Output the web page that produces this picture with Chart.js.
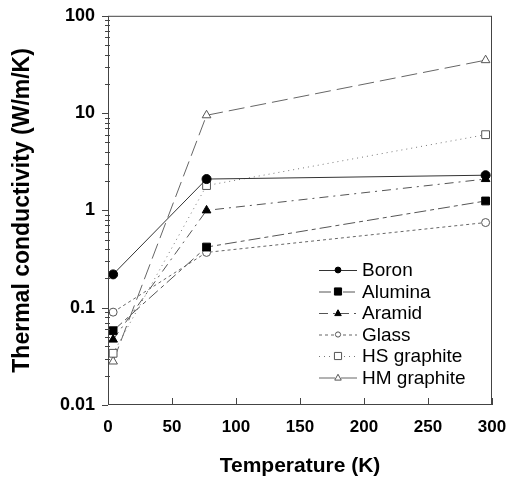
<!DOCTYPE html>
<html><head><meta charset="utf-8">
<script src="https://cdn.jsdelivr.net/npm/chart.js@4.4.0/dist/chart.umd.min.js"></script>
<style>html,body{margin:0;padding:0;background:#fff}canvas{display:block}</style>
</head><body>
<canvas id="c" width="516" height="480"></canvas>
<script>
const temperatures = [4, 77, 295];
const seriesNames = ["Boron", "Alumina", "Aramid", "Glass", "HS graphite", "HM graphite"];
const boron = [0.22, 2.1, 2.3];
const alumina = [0.058, 0.42, 1.25];
const aramid = [0.047, 1.0, 2.1];
const glass = [0.09, 0.37, 0.75];
const hsGraphite = [0.034, 1.8, 6.0];
const hmGraphite = [0.028, 9.5, 35];
const xTicks = [0, 50, 100, 150, 200, 250, 300];
const yTicks = [0.01, 0.1, 1, 10, 100];

const styles = [
  {dash: [], style: 'circle', fill: '#000', stroke: '#000', r: 4.5, line: '#333'},
  {dash: [12, 4, 4, 4], style: 'rect', fill: '#000', stroke: '#000', r: 5.5, line: '#555'},
  {dash: [9, 5, 2, 5], style: 'triangle', fill: '#000', stroke: '#000', r: 5, line: '#555'},
  {dash: [3, 3], style: 'circle', fill: '#fff', stroke: '#555', r: 4, line: '#666'},
  {dash: [1, 4], style: 'rect', fill: '#fff', stroke: '#555', r: 5.5, line: '#777'},
  {dash: [16, 6], style: 'triangle', fill: '#fff', stroke: '#555', r: 5, line: '#666'}
];
const values = [boron, alumina, aramid, glass, hsGraphite, hmGraphite];

const datasets = values.map((v, i) => ({
  label: seriesNames[i],
  data: temperatures.map((t, j) => ({x: t, y: v[j]})),
  borderColor: styles[i].line,
  borderWidth: 1,
  borderDash: styles[i].dash,
  pointStyle: styles[i].style,
  pointRadius: styles[i].r,
  pointBackgroundColor: styles[i].fill,
  pointBorderColor: styles[i].stroke,
  pointBorderWidth: 1,
  tension: 0,
  fill: false
}));

function drawMarker(ctx, style, x, y, r, fill, stroke) {
  ctx.save();
  ctx.setLineDash([]);
  ctx.fillStyle = fill; ctx.strokeStyle = stroke; ctx.lineWidth = 1;
  ctx.beginPath();
  if (style === 'circle') ctx.arc(x, y, r, 0, Math.PI * 2);
  else if (style === 'rect') ctx.rect(x - r, y - r, 2 * r, 2 * r);
  else { ctx.moveTo(x, y - r); ctx.lineTo(x + r, y + r * 0.8); ctx.lineTo(x - r, y + r * 0.8); ctx.closePath(); }
  ctx.fill(); ctx.stroke();
  ctx.restore();
}

const decor = {
  id: 'decor',
  afterDraw(chart) {
    const ctx = chart.ctx, a = chart.chartArea;
    const xs = chart.scales.x, ys = chart.scales.y;
    ctx.save();
    ctx.strokeStyle = '#444'; ctx.lineWidth = 1;
    ctx.strokeRect(a.left + 0.5, a.top + 0.5, a.right - a.left - 1, a.bottom - a.top - 1);
    for (let e = -2; e <= 2; e++) {
      const base = Math.pow(10, e);
      const py = Math.round(ys.getPixelForValue(base)) + 0.5;
      ctx.beginPath(); ctx.moveTo(a.left - 6, py); ctx.lineTo(a.left, py); ctx.stroke();
      if (e < 2) for (let m = 2; m <= 9; m++) {
        const my = Math.round(ys.getPixelForValue(base * m)) + 0.5;
        ctx.beginPath(); ctx.moveTo(a.left - 3, my); ctx.lineTo(a.left + 2, my); ctx.stroke();
      }
    }
    xTicks.forEach(t => {
      const px = Math.round(xs.getPixelForValue(t)) + 0.5;
      ctx.beginPath(); ctx.moveTo(px, a.bottom); ctx.lineTo(px, a.bottom - 7); ctx.stroke();
    });
    const lx0 = 319, lx1 = 357, tx = 362;
    let ly = 270;
    ctx.font = '19px "Liberation Sans", Arial, sans-serif';
    ctx.textBaseline = 'middle'; ctx.textAlign = 'left';
    chart.data.datasets.forEach((d, i) => {
      const s = styles[i];
      ctx.save();
      ctx.strokeStyle = s.line; ctx.setLineDash(s.dash); ctx.lineWidth = 1;
      ctx.beginPath(); ctx.moveTo(lx0, ly + 0.5); ctx.lineTo(lx1, ly + 0.5); ctx.stroke();
      ctx.restore();
      drawMarker(ctx, s.style, (lx0 + lx1) / 2, ly, s.r * 0.65, s.fill, s.stroke);
      ctx.fillStyle = '#000';
      ctx.fillText(d.label, tx, ly + 1);
      ly += 21.5;
    });
    ctx.restore();
  }
};

new Chart(document.getElementById('c'), {
  type: 'line',
  data: {datasets},
  plugins: [decor],
  options: {
    responsive: false,
    animation: false,
    layout: {padding: {top: 10, right: 24, left: 0, bottom: 0}},
    plugins: {legend: {display: false}, tooltip: {enabled: false}},
    scales: {
      x: {
        type: 'linear', min: 0, max: 300,
        afterFit: s => { s.height = 75; },
        afterBuildTicks: s => { s.ticks = xTicks.map(v => ({value: v})); },
        grid: {display: false},
        border: {display: false},
        ticks: {color: '#000', padding: 4, font: {family: '"Liberation Sans", Arial, sans-serif', size: 17, weight: 'bold'}, maxRotation: 0},
        title: {display: true, text: 'Temperature (K)', color: '#000', padding: {top: 0, bottom: 1}, font: {family: '"Liberation Sans", Arial, sans-serif', size: 21, weight: 'bold'}}
      },
      y: {
        type: 'logarithmic', min: 0.01, max: 100,
        afterFit: s => { s.width = 108; },
        afterBuildTicks: s => { s.ticks = yTicks.map(v => ({value: v})); },
        grid: {display: false},
        border: {display: false},
        ticks: {color: '#000', padding: 5, callback: v => String(v), font: {family: '"Liberation Sans", Arial, sans-serif', size: 18, weight: 'bold'}},
        title: {display: true, text: 'Thermal conductivity (W/m/K)', color: '#000', padding: {top: 9, bottom: 0}, font: {family: '"Liberation Sans", Arial, sans-serif', size: 23, weight: 'bold'}}
      }
    }
  }
});
</script>
</body></html>
